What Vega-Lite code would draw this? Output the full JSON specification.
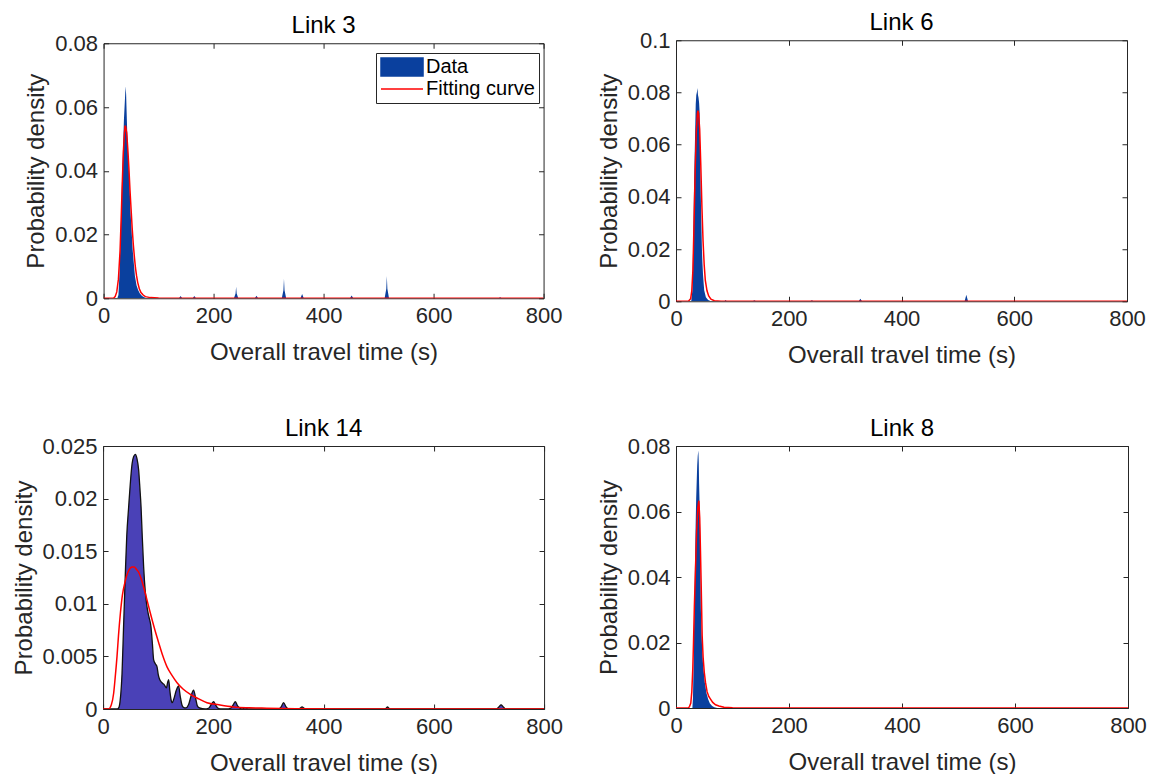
{
  "$schema": "https://vega.github.io/schema/vega-lite/v6.json",
  "padding": {"left": 11, "top": 10, "right": 0, "bottom": 0},
  "background": "white",
  "datasets": {
    "d3": [
      {"t":0,"p":0},{"t":25,"p":0},{"t":27,"p":0.001},{"t":29,"p":0.008},{"t":31,"p":0.02},{"t":33,"p":0.034},{"t":35,"p":0.045},{"t":37,"p":0.056},{"t":39,"p":0.063},{"t":40,"p":0.0665},{"t":41,"p":0.064},{"t":42,"p":0.058},{"t":43,"p":0.052},{"t":45,"p":0.044},{"t":47,"p":0.037},{"t":49,"p":0.027},{"t":51,"p":0.021},{"t":53,"p":0.015},{"t":55,"p":0.011},{"t":57,"p":0.007},{"t":60,"p":0.004},{"t":63,"p":0.0025},{"t":66,"p":0.0015},{"t":70,"p":0.0007},{"t":74,"p":0.0003},{"t":78,"p":0},
      {"t":137,"p":0},{"t":140,"p":0.0007},{"t":143,"p":0},{"t":162,"p":0},{"t":165,"p":0.0007},{"t":168,"p":0},
      {"t":237,"p":0},{"t":240,"p":0.0015},{"t":241,"p":0.0036},{"t":242,"p":0.0015},{"t":245,"p":0},
      {"t":275,"p":0},{"t":278,"p":0.0008},{"t":281,"p":0},
      {"t":324,"p":0},{"t":327,"p":0.0025},{"t":328,"p":0.0061},{"t":329,"p":0.0025},{"t":332,"p":0},
      {"t":358,"p":0},{"t":361,"p":0.0013},{"t":364,"p":0},{"t":448,"p":0},{"t":451,"p":0.0009},{"t":454,"p":0},
      {"t":511,"p":0},{"t":514,"p":0.003},{"t":515,"p":0.007},{"t":516,"p":0.003},{"t":519,"p":0},
      {"t":718,"p":0},{"t":721,"p":0.0003},{"t":724,"p":0},{"t":800,"p":0}
    ],
    "f3": [
      {"t":0,"p":0},{"t":18,"p":0},{"t":21,"p":0.0005},{"t":24,"p":0.002},{"t":27,"p":0.006},{"t":30,"p":0.015},{"t":32,"p":0.025},{"t":34,"p":0.036},{"t":36,"p":0.046},{"t":38,"p":0.052},{"t":39,"p":0.054},{"t":40,"p":0.054},{"t":42,"p":0.052},{"t":44,"p":0.047},{"t":46,"p":0.041},{"t":48,"p":0.034},{"t":50,"p":0.028},{"t":52,"p":0.022},{"t":54,"p":0.017},{"t":56,"p":0.013},{"t":58,"p":0.0095},{"t":60,"p":0.007},{"t":62,"p":0.005},{"t":65,"p":0.003},{"t":68,"p":0.0018},{"t":72,"p":0.001},{"t":76,"p":0.0005},{"t":85,"p":0.0002},{"t":100,"p":0.00005},{"t":130,"p":0},{"t":800,"p":0}
    ],
    "d6": [
      {"t":0,"p":0},{"t":27,"p":0},{"t":29,"p":0.004},{"t":31,"p":0.03},{"t":32,"p":0.045},{"t":33,"p":0.055},{"t":35,"p":0.0756},{"t":36,"p":0.079},{"t":37,"p":0.08},{"t":38,"p":0.0817},{"t":39,"p":0.079},{"t":40,"p":0.078},{"t":41,"p":0.076},{"t":42,"p":0.072},{"t":43,"p":0.055},{"t":44,"p":0.04},{"t":45,"p":0.03},{"t":46,"p":0.02},{"t":47,"p":0.0144},{"t":48,"p":0.01},{"t":50,"p":0.0042},{"t":53,"p":0.0015},{"t":57,"p":0.0005},{"t":62,"p":0},
      {"t":86,"p":0},{"t":88,"p":0.0005},{"t":90,"p":0},{"t":136,"p":0},{"t":139,"p":0.0004},{"t":142,"p":0},{"t":238,"p":0},{"t":241,"p":0.0004},{"t":244,"p":0},{"t":324,"p":0},{"t":327,"p":0.001},{"t":330,"p":0},{"t":512,"p":0},{"t":515,"p":0.0025},{"t":518,"p":0},{"t":800,"p":0}
    ],
    "f6": [
      {"t":0,"p":0},{"t":22,"p":0},{"t":26,"p":0.001},{"t":28,"p":0.004},{"t":30,"p":0.012},{"t":32,"p":0.03},{"t":34,"p":0.05},{"t":36,"p":0.065},{"t":38,"p":0.072},{"t":39,"p":0.073},{"t":40,"p":0.072},{"t":42,"p":0.066},{"t":44,"p":0.052},{"t":46,"p":0.036},{"t":48,"p":0.023},{"t":50,"p":0.014},{"t":52,"p":0.008},{"t":55,"p":0.004},{"t":58,"p":0.002},{"t":62,"p":0.0008},{"t":68,"p":0.0002},{"t":80,"p":0},{"t":800,"p":0}
    ],
    "d14": [
      {"t":0,"p":0},{"t":26,"p":0},{"t":28.3,"p":0.0001},{"t":31,"p":0.0008},{"t":34.4,"p":0.0034},{"t":37,"p":0.0075},{"t":40.4,"p":0.0129},{"t":43,"p":0.0165},{"t":46.4,"p":0.0192},{"t":49.5,"p":0.0215},{"t":52.6,"p":0.0233},{"t":55.5,"p":0.024},{"t":58.6,"p":0.0242},{"t":61.5,"p":0.0238},{"t":64.6,"p":0.0227},{"t":66.8,"p":0.021},{"t":68.9,"p":0.0192},{"t":71,"p":0.0165},{"t":73.6,"p":0.0135},{"t":76.5,"p":0.0112},{"t":79.7,"p":0.0097},{"t":83,"p":0.0088},{"t":86.9,"p":0.0078},{"t":89.5,"p":0.0062},{"t":91.7,"p":0.0047},{"t":94.8,"p":0.0043},{"t":97.9,"p":0.004},{"t":100,"p":0.0033},{"t":102.7,"p":0.0028},{"t":106.9,"p":0.0025},{"t":109,"p":0.0024},{"t":111.1,"p":0.0023},{"t":114.8,"p":0.002},{"t":117,"p":0.0025},{"t":119,"p":0.0028},{"t":121,"p":0.0018},{"t":123.3,"p":0.0009},{"t":125.5,"p":0.0006},{"t":128,"p":0.0009},{"t":133,"p":0.0018},{"t":137,"p":0.0022},{"t":140,"p":0.0012},{"t":143,"p":0.0004},{"t":145,"p":0.0002},{"t":150,"p":0.0001},{"t":155,"p":0.0004},{"t":160,"p":0.0013},{"t":164.2,"p":0.0018},{"t":168,"p":0.001},{"t":171,"p":0.0003},{"t":175,"p":0.0001},{"t":185,"p":0},{"t":192,"p":0.0001},{"t":197,"p":0.0005},{"t":200.5,"p":0.0007},{"t":204,"p":0.0004},{"t":208,"p":0.0001},{"t":215,"p":0},{"t":225,"p":0},{"t":232,"p":0.0001},{"t":236,"p":0.0004},{"t":240,"p":0.0007},{"t":244,"p":0.0003},{"t":248,"p":0.0001},{"t":253,"p":0},{"t":256,"p":0.0001},{"t":259,"p":0.0001},{"t":263,"p":0},{"t":318,"p":0},{"t":323,"p":0.0002},{"t":327.4,"p":0.0006},{"t":332,"p":0.0002},{"t":337,"p":0},{"t":354,"p":0},{"t":358,"p":0.0001},{"t":361,"p":0.0002},{"t":364,"p":0.0001},{"t":368,"p":0},{"t":510,"p":0},{"t":514,"p":0.0001},{"t":516,"p":0.0002},{"t":518,"p":0.0001},{"t":522,"p":0},{"t":714,"p":0},{"t":718,"p":0.0002},{"t":722,"p":0.0004},{"t":726,"p":0.0002},{"t":730,"p":0},{"t":800,"p":0}
    ],
    "f14": [
      {"t":0,"p":0},{"t":10,"p":0},{"t":15,"p":0.0004},{"t":19.2,"p":0.0015},{"t":22,"p":0.003},{"t":25.3,"p":0.005},{"t":28,"p":0.007},{"t":31.4,"p":0.0091},{"t":35,"p":0.0108},{"t":40.4,"p":0.0122},{"t":45,"p":0.013},{"t":49.5,"p":0.0134},{"t":53,"p":0.0135},{"t":56.7,"p":0.0135},{"t":60,"p":0.0133},{"t":64.6,"p":0.013},{"t":69,"p":0.0124},{"t":73.6,"p":0.0116},{"t":80,"p":0.0103},{"t":85.8,"p":0.0091},{"t":93,"p":0.0077},{"t":100.9,"p":0.0063},{"t":108,"p":0.0051},{"t":116,"p":0.004},{"t":125,"p":0.0032},{"t":134.2,"p":0.0025},{"t":145,"p":0.0019},{"t":158.3,"p":0.0014},{"t":172,"p":0.001},{"t":188.5,"p":0.0006},{"t":210,"p":0.0004},{"t":236.6,"p":0.0002},{"t":265,"p":0.00012},{"t":297,"p":0.00008},{"t":350,"p":0.00003},{"t":450,"p":0},{"t":800,"p":0}
    ],
    "d8": [
      {"t":0,"p":0},{"t":29,"p":0},{"t":30,"p":0.003},{"t":31,"p":0.012},{"t":32,"p":0.025},{"t":33.3,"p":0.0404},{"t":34.5,"p":0.0536},{"t":35.7,"p":0.0638},{"t":37.5,"p":0.074},{"t":38.5,"p":0.077},{"t":39.6,"p":0.0786},{"t":40.3,"p":0.075},{"t":40.9,"p":0.0684},{"t":41.8,"p":0.062},{"t":42.7,"p":0.0547},{"t":43.3,"p":0.042},{"t":44,"p":0.0302},{"t":45,"p":0.024},{"t":46.3,"p":0.018},{"t":48,"p":0.013},{"t":51,"p":0.0078},{"t":54,"p":0.0045},{"t":56.9,"p":0.0027},{"t":60,"p":0.0014},{"t":64,"p":0.0006},{"t":68,"p":0.0002},{"t":73,"p":0},{"t":800,"p":0}
    ],
    "f8": [
      {"t":0,"p":0},{"t":22,"p":0},{"t":24,"p":0.0005},{"t":26.2,"p":0.0015},{"t":28,"p":0.005},{"t":29.7,"p":0.0119},{"t":31,"p":0.02},{"t":32.5,"p":0.031},{"t":34.5,"p":0.0424},{"t":36.5,"p":0.054},{"t":38.5,"p":0.061},{"t":40.4,"p":0.0633},{"t":42,"p":0.058},{"t":43.3,"p":0.048},{"t":44.6,"p":0.0373},{"t":46.3,"p":0.0221},{"t":48,"p":0.0155},{"t":50,"p":0.011},{"t":52.2,"p":0.0078},{"t":55,"p":0.005},{"t":58,"p":0.0035},{"t":61.1,"p":0.0027},{"t":65,"p":0.0017},{"t":70,"p":0.001},{"t":75.9,"p":0.0006},{"t":85,"p":0.0002},{"t":100,"p":0.00005},{"t":120,"p":0},{"t":800,"p":0}
    ]
  },
  "columns": 2,
  "spacing": {"row": 48, "column": 33},
  "center": true,
  "concat": [
    {
      "title": "Link 3",
      "width": 440,
      "height": 255,
      "layer": [
        {
          "data": {"name": "d3"},
          "mark": {"type": "area", "interpolate": "linear", "clip": true},
          "encoding": {
            "x": {"field": "t", "type": "quantitative", "scale": {"domain": [0, 800], "nice": false}, "axis": {"orient": "bottom", "values": [0, 200, 400, 600, 800], "title": "Overall travel time (s)"}},
            "y": {"field": "p", "type": "quantitative", "scale": {"domain": [0, 0.08], "nice": false}, "axis": {"orient": "left", "values": [0, 0.02, 0.04, 0.06, 0.08], "format": "~g", "title": "Probability density"}},
            "color": {"datum": "Data", "type": "nominal", "scale": {"domain": ["Data", "Fitting curve"], "range": ["#0a409e", "#ff0000"]},
              "legend": {"orient": "none", "legendX": 273, "legendY": 13, "title": null, "symbolSize": 324, "labelOffset": 26, "rowPadding": 0, "padding": 4,
                "encode": {"symbols": {"update": {
                  "shape": {"signal": "datum.value === 'Data' ? 'M-1,-1H3.67V1H-1Z' : 'M-1,0H3.67'"},
                  "fill": {"signal": "datum.value === 'Data' ? '#0a409e' : 'transparent'"},
                  "stroke": {"signal": "datum.value === 'Data' ? 'transparent' : '#ff0000'"},
                  "strokeWidth": {"value": 1.5},
                  "size": {"value": 324},
                  "opacity": {"value": 1}
                }}}}}
          }
        },
        {
          "data": {"name": "f3"},
          "mark": {"type": "line", "strokeWidth": 1.5, "clip": true},
          "encoding": {
            "x": {"field": "t", "type": "quantitative", "axis": {"orient": "top", "values": [0, 200, 400, 600, 800], "labels": false, "title": null, "minExtent": 0, "maxExtent": 0}},
            "y": {"field": "p", "type": "quantitative", "axis": {"orient": "right", "values": [0, 0.02, 0.04, 0.06, 0.08], "labels": false, "title": null, "minExtent": 0, "maxExtent": 0}},
            "color": {"datum": "Fitting curve", "type": "nominal",
              "legend": {"orient": "none", "legendX": 273, "legendY": 13, "title": null, "symbolSize": 324, "labelOffset": 26, "rowPadding": 0, "padding": 4,
                "encode": {"symbols": {"update": {
                  "shape": {"signal": "datum.value === 'Data' ? 'M-1,-1H3.67V1H-1Z' : 'M-1,0H3.67'"},
                  "fill": {"signal": "datum.value === 'Data' ? '#0a409e' : 'transparent'"},
                  "stroke": {"signal": "datum.value === 'Data' ? 'transparent' : '#ff0000'"},
                  "strokeWidth": {"value": 1.5},
                  "size": {"value": 324},
                  "opacity": {"value": 1}
                }}}}}
          }
        }
      ],
      "resolve": {"axis": {"x": "independent", "y": "independent"}}
    },
    {
      "title": "Link 6",
      "width": 451,
      "height": 261,
      "layer": [
        {
          "data": {"name": "d6"},
          "mark": {"type": "area", "interpolate": "linear", "color": "#0a409e", "clip": true},
          "encoding": {
            "x": {"field": "t", "type": "quantitative", "scale": {"domain": [0, 800], "nice": false}, "axis": {"orient": "bottom", "values": [0, 200, 400, 600, 800], "title": "Overall travel time (s)"}},
            "y": {"field": "p", "type": "quantitative", "scale": {"domain": [0, 0.1], "nice": false}, "axis": {"orient": "left", "values": [0, 0.02, 0.04, 0.06, 0.08, 0.1], "format": "~g", "title": "Probability density"}}
          }
        },
        {
          "data": {"name": "f6"},
          "mark": {"type": "line", "strokeWidth": 1.5, "color": "#ff0000", "clip": true},
          "encoding": {
            "x": {"field": "t", "type": "quantitative", "axis": {"orient": "top", "values": [0, 200, 400, 600, 800], "labels": false, "title": null, "minExtent": 0, "maxExtent": 0}},
            "y": {"field": "p", "type": "quantitative", "axis": {"orient": "right", "values": [0, 0.02, 0.04, 0.06, 0.08, 0.1], "labels": false, "title": null, "minExtent": 0, "maxExtent": 0}}
          }
        }
      ],
      "resolve": {"axis": {"x": "independent", "y": "independent"}}
    },
    {
      "title": "Link 14",
      "width": 441,
      "height": 263,
      "layer": [
        {
          "data": {"name": "d14"},
          "mark": {"type": "area", "interpolate": "monotone", "color": "#4a41b7", "opacity": 1, "fillOpacity": 1, "line": {"color": "#111111", "strokeWidth": 1.3}, "clip": true},
          "encoding": {
            "x": {"field": "t", "type": "quantitative", "scale": {"domain": [0, 800], "nice": false}, "axis": {"orient": "bottom", "values": [0, 200, 400, 600, 800], "title": "Overall travel time (s)"}},
            "y": {"field": "p", "type": "quantitative", "scale": {"domain": [0, 0.025], "nice": false}, "axis": {"orient": "left", "values": [0, 0.005, 0.01, 0.015, 0.02, 0.025], "format": "~g", "title": "Probability density"}}
          }
        },
        {
          "data": {"name": "f14"},
          "mark": {"type": "line", "strokeWidth": 1.5, "color": "#ff0000", "interpolate": "monotone", "clip": true},
          "encoding": {
            "x": {"field": "t", "type": "quantitative", "axis": {"orient": "top", "values": [0, 200, 400, 600, 800], "labels": false, "title": null, "minExtent": 0, "maxExtent": 0}},
            "y": {"field": "p", "type": "quantitative", "axis": {"orient": "right", "values": [0, 0.005, 0.01, 0.015, 0.02, 0.025], "labels": false, "title": null, "minExtent": 0, "maxExtent": 0}}
          }
        }
      ],
      "resolve": {"axis": {"x": "independent", "y": "independent"}}
    },
    {
      "title": "Link 8",
      "width": 452,
      "height": 262,
      "layer": [
        {
          "data": {"name": "d8"},
          "mark": {"type": "area", "interpolate": "linear", "color": "#0a409e", "clip": true},
          "encoding": {
            "x": {"field": "t", "type": "quantitative", "scale": {"domain": [0, 800], "nice": false}, "axis": {"orient": "bottom", "values": [0, 200, 400, 600, 800], "title": "Overall travel time (s)"}},
            "y": {"field": "p", "type": "quantitative", "scale": {"domain": [0, 0.08], "nice": false}, "axis": {"orient": "left", "values": [0, 0.02, 0.04, 0.06, 0.08], "format": "~g", "title": "Probability density"}}
          }
        },
        {
          "data": {"name": "f8"},
          "mark": {"type": "line", "strokeWidth": 1.5, "color": "#ff0000", "clip": true},
          "encoding": {
            "x": {"field": "t", "type": "quantitative", "axis": {"orient": "top", "values": [0, 200, 400, 600, 800], "labels": false, "title": null, "minExtent": 0, "maxExtent": 0}},
            "y": {"field": "p", "type": "quantitative", "axis": {"orient": "right", "values": [0, 0.02, 0.04, 0.06, 0.08], "labels": false, "title": null, "minExtent": 0, "maxExtent": 0}}
          }
        }
      ],
      "resolve": {"axis": {"x": "independent", "y": "independent"}}
    }
  ],
  "config": {
    "font": "Liberation Sans",
    "view": {"stroke": "#262626", "strokeWidth": 1},
    "axis": {"domain": false, "grid": false, "ticks": true, "tickColor": "#262626", "tickSize": -5, "tickWidth": 1,
      "labelFont": "Liberation Sans", "labelFontSize": 22, "labelColor": "#262626", "labelFlush": false, "labelOverlap": false,
      "titleFont": "Liberation Sans", "titleFontSize": 24, "titleFontWeight": "normal", "titleColor": "#262626"},
    "axisX": {"labelPadding": 12, "titlePadding": 14},
    "axisY": {"labelPadding": 11, "titlePadding": 6},
    "title": {"font": "Liberation Sans", "fontSize": 24, "fontWeight": "normal", "color": "#000000", "offset": -6},
    "legend": {"labelFont": "Liberation Sans", "labelFontSize": 20, "labelColor": "#000000", "strokeColor": "#262626", "fillColor": "#ffffff"}
  }
}
